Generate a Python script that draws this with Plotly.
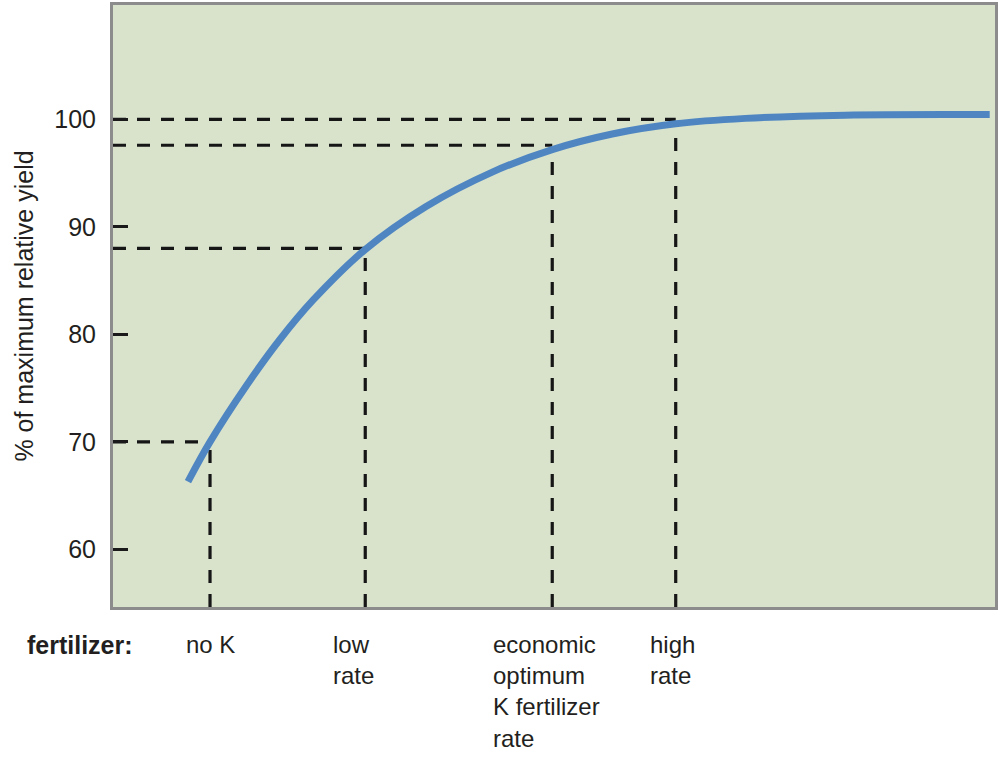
import plotly.graph_objects as go

# yield response curve, x = fertilizer rate (arbitrary units 0-100 across the plot)
curve_x = [8.5, 11.0, 15.1, 18.9, 22.7, 28.6, 35.5, 43.0, 49.8, 56.6, 63.8, 71.7, 83.0, 99.4]
curve_y = [66.3, 70.0, 75.2, 79.5, 83.2, 87.9, 91.9, 95.1, 97.2, 98.65, 99.6, 100.1, 100.4, 100.45]

# reference rates marked on the curve
rate_x = [11.0, 28.6, 49.8, 63.8]
rate_hline = [70, 88, 97.6, 100]      # horizontal guide levels
rate_vtop = [70, 87.8, 97.2, 99.6]    # where the vertical guides stop
rate_labels = ["no K", "low<br>rate", "economic<br>optimum<br>K fertilizer<br>rate", "high<br>rate"]

y_ticks = [60, 70, 80, 90, 100]
y_min, y_max = 54.63, 110.65

font_name = "Liberation Sans Narrow, Liberation Sans, sans-serif"
ink = "#231f20"
guide = dict(color="#161616", width=3.2, dash="13px,11px")

fig = go.Figure()

fig.add_trace(go.Scatter(x=curve_x, y=curve_y, mode="lines",
                         line=dict(color="#4f86c2", width=7, shape="spline", smoothing=1.0),
                         hoverinfo="skip"))

shapes = []
for x, h, v in zip(rate_x, rate_hline, rate_vtop):
    shapes.append(dict(type="line", xref="x", yref="y", x0=0, x1=x, y0=h, y1=h, line=guide, layer="below"))
    shapes.append(dict(type="line", xref="x", yref="y", x0=x, x1=x, y0=y_min, y1=v, line=guide, layer="below"))

# labels under the plot; small nudges so the blocks sit like the original
label_shift = [0, -12, -6, -3]
annotations = []
for x, txt, dx in zip(rate_x, rate_labels, label_shift):
    annotations.append(dict(x=x, y=-0.036, xref="x", yref="paper", text=txt, showarrow=False,
                            xanchor="center", yanchor="top", align="left", xshift=dx,
                            font=dict(family=font_name, size=24, color=ink)))
annotations.append(dict(x=-0.1, y=-0.036, xref="paper", yref="paper", text="<b>fertilizer:</b>",
                        showarrow=False, xanchor="left", yanchor="top",
                        font=dict(family=font_name, size=25, color=ink)))

fig.update_layout(
    width=1000, height=764,
    margin=dict(l=113, r=3, t=2, b=157),
    plot_bgcolor="#d9e3cc", paper_bgcolor="white",
    showlegend=False,
    shapes=shapes, annotations=annotations,
    xaxis=dict(range=[0, 100], showgrid=False, zeroline=False, showticklabels=False, ticks="",
               showline=True, mirror=True, linecolor="#8c8c8c", linewidth=3),
    yaxis=dict(range=[y_min, y_max], tickvals=y_ticks, ticks="inside", ticklen=15, tickwidth=3,
               tickcolor="#1a1a1a", showgrid=False, zeroline=False,
               showline=True, mirror=True, linecolor="#8c8c8c", linewidth=3,
               ticklabelstandoff=9,
               tickfont=dict(family=font_name, size=25, color=ink),
               title=dict(text="% of maximum relative yield", standoff=14,
                          font=dict(family=font_name, size=25, color=ink))),
)

# drop the page's default body margin so the figure sits at the window corner
fig.write_html("out.html", config={"displayModeBar": False},
               post_script="document.body.style.margin='0';")
